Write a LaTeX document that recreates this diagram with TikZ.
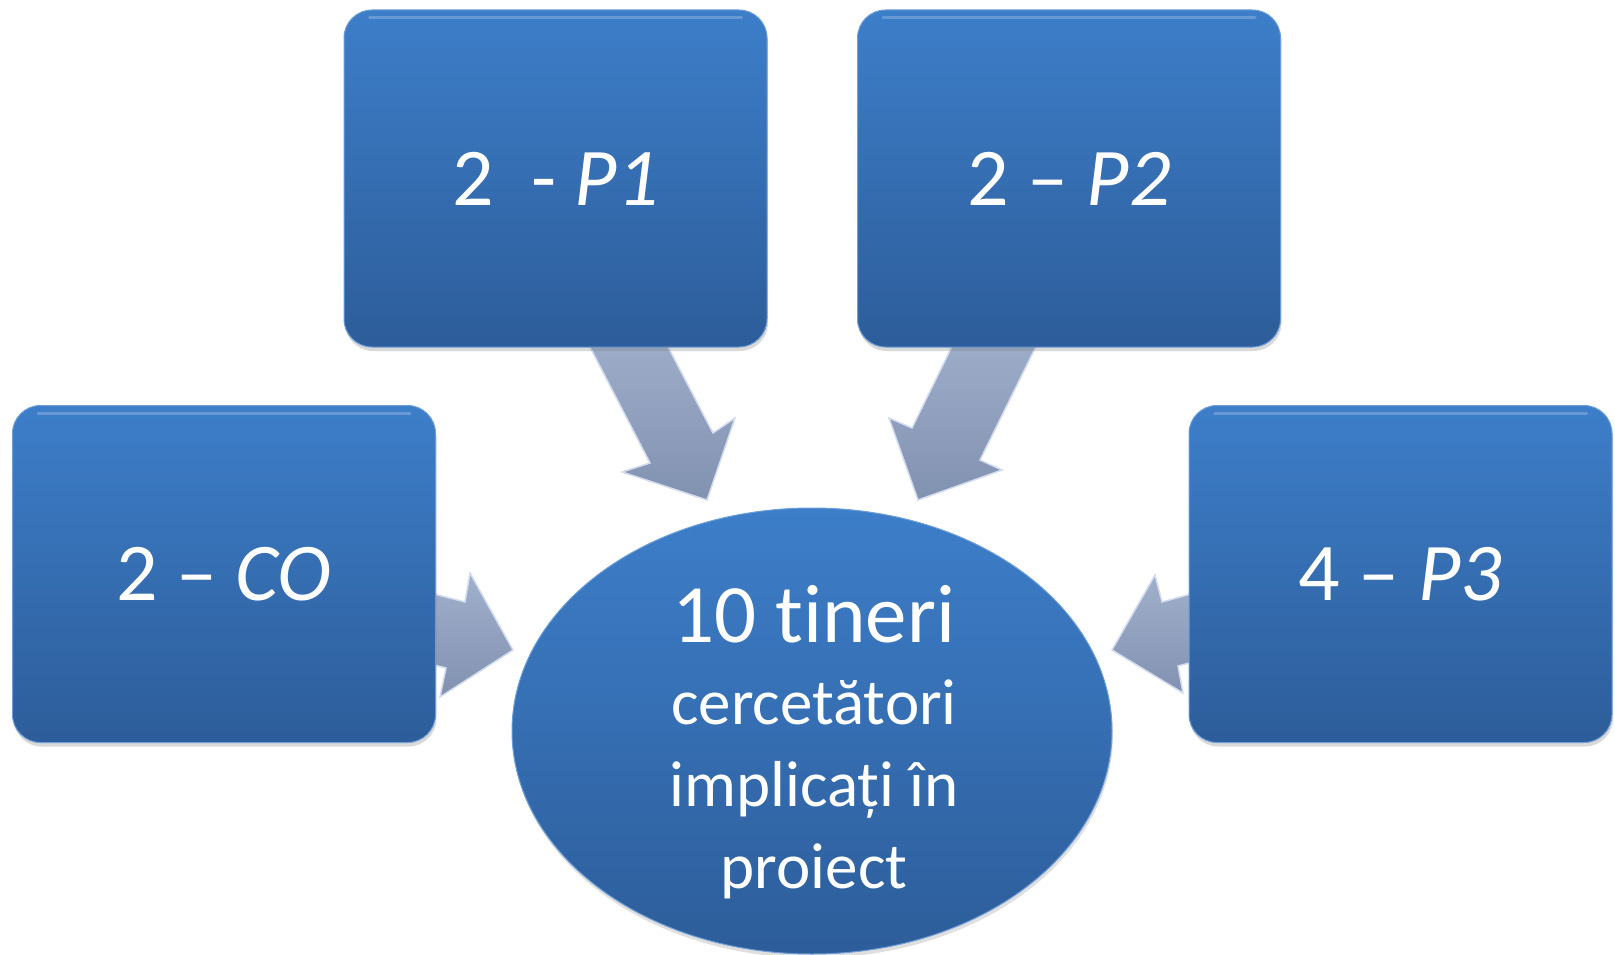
\documentclass[tikz,border=0pt]{standalone}
\usepackage{fontspec}
\setmainfont{Carlito}[Ligatures=NoCommon]
\usetikzlibrary{shapes.geometric,shadows}
\definecolor{boxtop}{HTML}{3D7EC9}
\definecolor{boxbot}{HTML}{2D5D9A}
\definecolor{arrtop}{HTML}{A0B0CC}
\definecolor{arrbot}{HTML}{8191B0}
\definecolor{arredge}{HTML}{D2DCEE}
\begin{document}
\begin{tikzpicture}[x=1pt,y=-1pt,
  bluebox/.style={rectangle, rounded corners=28pt, minimum width=423pt, minimum height=337pt,
    inner sep=0pt, top color=boxtop, bottom color=boxbot, draw=boxtop!75!white, line width=1pt,
    text=white, font=\fontsize{82}{90}\selectfont,
    drop shadow={opacity=0.3, shadow xshift=1pt, shadow yshift=-4pt}},
  blockarrow/.style={top color=arrtop, bottom color=arrbot, draw=arredge, line width=1.5pt, line join=miter},
  gloss/.style={white, opacity=0.22, line width=3pt, line cap=round}]
\useasboundingbox (0,0) rectangle (1615,955);

% block arrows (drawn first, boxes cover their tails)
\path[blockarrow] (576,320) -- (650,463) -- (622,472) -- (707,500) -- (735,418) -- (713,433) -- (654,320) -- cycle;
\path[blockarrow] (965,320) -- (912,428) -- (889,418) -- (918,500) -- (1002,470) -- (980,460) -- (1049,320) -- cycle;
\path[blockarrow] (407,587) -- (465,602) -- (470,573) -- (513,650) -- (440,697) -- (446,668) -- (388,653) -- cycle;
\path[blockarrow] (1220,586) -- (1162,602) -- (1155,575) -- (1112,650) -- (1183,693) -- (1178,666) -- (1236,650) -- cycle;

% boxes
\node[bluebox] (p1) at (555.5,178.5) {2\ \ - \textit{P1}};
\node[bluebox] (p2) at (1069,178.5) {2 – \textit{P2}};
\node[bluebox] (co) at (224,574) {2 – \textit{CO}};
\node[bluebox] (p3) at (1400.5,574) {4 – \textit{P3}};

% gloss highlights on box tops
\foreach \b in {p1,p2,co,p3}{
  \draw[gloss] ([xshift=26pt,yshift=-8pt]\b.north west) -- ([xshift=-26pt,yshift=-8pt]\b.north east);
}

% central ellipse
\node[ellipse, minimum width=600pt, minimum height=446pt, inner sep=0pt,
  top color=boxtop, bottom color=boxbot, draw=boxtop!75!white, line width=1pt,
  drop shadow={opacity=0.25, shadow xshift=1pt, shadow yshift=-4pt}] (center) at (812,731) {};
\node[anchor=base, align=center, text=white, font=\fontsize{65}{82}\selectfont] (ctext) at (814,888)
  {{\fontsize{83}{83}\selectfont 10 tineri}\\cercetători\\implicați în\\proiect};
\end{tikzpicture}
\end{document}
